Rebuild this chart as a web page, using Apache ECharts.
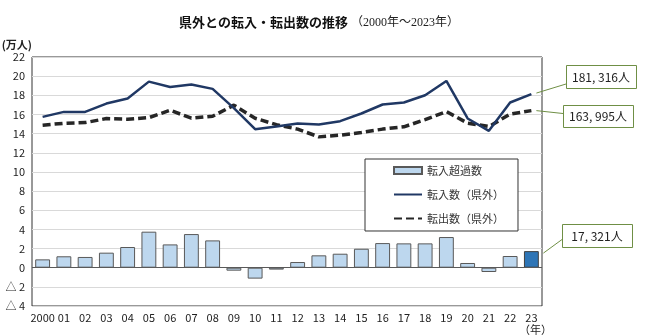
<!DOCTYPE html>
<html><head><meta charset="utf-8">
<script src="https://cdn.jsdelivr.net/npm/echarts@6/dist/echarts.min.js"></script>
<style>html,body{margin:0;padding:0;background:#fff}#c{width:650px;height:336px}</style>
</head><body><div id="c"></div>
<script>
const years = ['2000','01','02','03','04','05','06','07','08','09','10','11','12','13','14','15','16','17','18','19','20','21','22','23'];
const inbound = [15.75,16.27,16.27,17.14,17.66,19.43,18.87,19.12,18.67,16.66,14.46,14.74,15.06,14.95,15.30,16.10,17.04,17.25,18.00,19.50,15.58,14.29,17.25,18.13];
const outbound = [14.88,15.08,15.15,15.57,15.50,15.67,16.44,15.61,15.82,16.97,15.60,14.94,14.47,13.66,13.84,14.12,14.47,14.71,15.46,16.30,15.09,14.74,16.03,16.40];
const netInflow = [0.87,1.19,1.12,1.57,2.16,3.76,2.43,3.51,2.85,-0.31,-1.14,-0.20,0.59,1.29,1.46,1.98,2.57,2.54,2.54,3.20,0.49,-0.45,1.22,1.73];
const seriesNames = ['転入超過数','転入数（県外）','転出数（県外）'];
const calloutTexts = ['181, 316人','163, 995人','17, 321人'];
const yTicks = {min:-4, max:22, interval:2};

const FONT = '"Noto Sans CJK JP", "Noto Sans", sans-serif';
const chart = echarts.init(document.getElementById('c'), null, {renderer:'canvas'});
const last = years.length - 1;

const barData = netInflow.map((v,i) => i === last
  ? {value:v, itemStyle:{color:'#2E75B6', borderColor:'#404040'}}
  : v);

const yFmt = v => (v < 0 ? '△ ' + Math.abs(v) : '' + v);

chart.setOption({
  animation:false,
  textStyle:{fontFamily:FONT},
  title:{
    text:'{a|県外との転入・転出数の推移}{b| （2000年～2023年）}',
    left:174, top:11,
    textStyle:{rich:{
      a:{fontSize:13, fontWeight:'bold', color:'#111', fontFamily:FONT},
      b:{fontSize:12, fontWeight:'normal', color:'#222', fontFamily:'"Liberation Serif", "Noto Sans CJK JP", serif'}
    }}
  },
  legend:{
    orient:'vertical', left:365, top:159,
    padding:[6,14,7,28], itemGap:13,
    itemWidth:28, itemHeight:7,
    backgroundColor:'#fff', borderColor:'#333', borderWidth:1,
    textStyle:{fontSize:11, color:'#333', fontFamily:FONT},
    data:[
      {name:seriesNames[0], icon:'rect'},
      {name:seriesNames[1], itemStyle:{opacity:0}},
      {name:seriesNames[2], itemStyle:{opacity:0}}
    ]
  },
  grid:{left:32, right:108, top:57, bottom:30, show:true, borderColor:'#333', borderWidth:1,
        containLabel:false, outerBoundsMode:'none'},
  xAxis:{
    type:'category', data:years,
    axisLine:{show:false}, axisTick:{show:false},
    axisLabel:{
      margin:6, fontSize:11, color:'#222', interval:0, fontFamily:FONT,
      formatter:(v,i)=> i===last ? v+'\n{u|（年）}' : v,
      rich:{u:{fontSize:11, color:'#222', lineHeight:13, padding:[0,0,0,8]}}
    }
  },
  yAxis:{
    type:'value', min:yTicks.min, max:yTicks.max, interval:yTicks.interval,
    name:'(万人)', nameLocation:'end', nameGap:7,
    nameTextStyle:{fontSize:11, color:'#222', align:'right', padding:[0,0,0,0], fontWeight:'bold'},
    axisLine:{show:false}, axisTick:{show:false},
    axisLabel:{fontSize:11, color:'#222', margin:7, formatter:yFmt},
    splitLine:{lineStyle:{color:'#d9d9d9', width:1}}
  },
  series:[
    {name:seriesNames[0], type:'bar', data:barData, barWidth:'70%',
     itemStyle:{color:'#BDD7EE', borderColor:'#595959', borderWidth:1},
     markLine:{silent:true, symbol:'none', label:{show:false},
       lineStyle:{color:'#595959', width:1, type:'solid'}, data:[{yAxis:0}]}},
    {name:seriesNames[1], type:'line', data:inbound, symbol:'none',
     lineStyle:{color:'#203864', width:2.5}, itemStyle:{color:'#203864'}, z:4},
    {name:seriesNames[2], type:'line', data:outbound, symbol:'none',
     lineStyle:{color:'#262626', width:3.5, type:[8,4]}, itemStyle:{color:'#262626'}, z:3}
  ]
});

// callouts
const p1 = chart.convertToPixel({seriesIndex:1}, [last, inbound[last]]);
const p2 = chart.convertToPixel({seriesIndex:2}, [last, outbound[last]]);
const p3 = chart.convertToPixel({seriesIndex:0}, [last, netInflow[last]]);
const GREEN = '#6f8f45';
const boxes = [
  {x:566, y:65, w:70, h:23, text:calloutTexts[0], from:[p1[0]+5, p1[1]-1], to:[566,84]},
  {x:563, y:105, w:70, h:22, text:calloutTexts[1], from:[p2[0]+5, p2[1]], to:[563,113.5]},
  {x:562, y:224, w:70, h:23, text:calloutTexts[2], from:[p3[0]+12, p3[1]+2], to:[562,239.5]}
];
const g = [];
boxes.forEach(b => {
  g.push({type:'line', shape:{x1:b.from[0], y1:b.from[1], x2:b.to[0], y2:b.to[1]}, style:{stroke:GREEN, lineWidth:1}, z:10});
  g.push({type:'rect', shape:{x:b.x+0.5, y:b.y+0.5, width:b.w, height:b.h}, style:{fill:'#fff', stroke:GREEN, lineWidth:1}, z:10});
  g.push({type:'text', x:b.x+b.w/2, y:b.y+b.h/2+0.5, style:{text:b.text, fill:'#222', font:'12px '+FONT, align:'center', verticalAlign:'middle'}, z:11});
});
chart.setOption({graphic:g});
</script></body></html>
